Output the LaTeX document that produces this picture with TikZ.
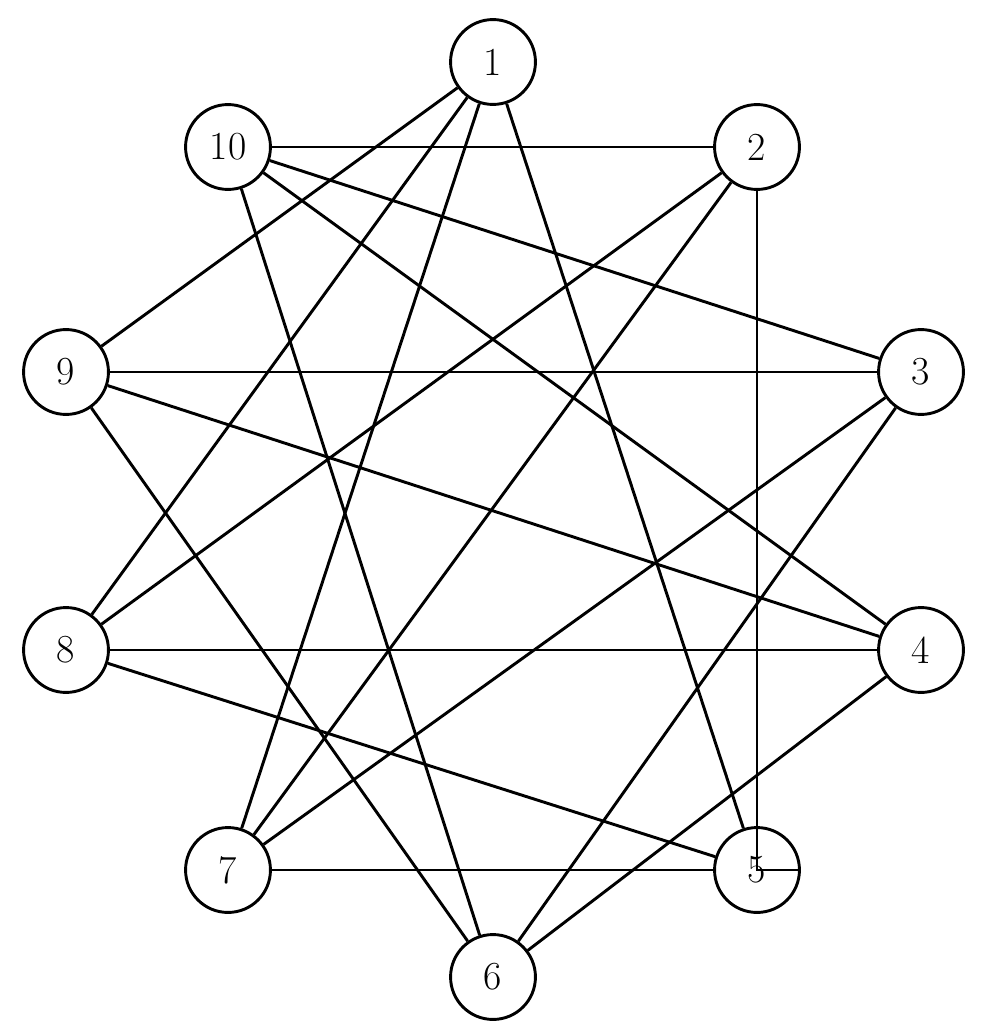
\documentclass[tikz,border=0pt]{standalone}
\begin{document}
\begin{tikzpicture}[x=0.0265cm,y=-0.0265cm,
  vtx/.style={circle,draw,line width=2.2pt,minimum size=2.25cm,inner sep=0pt,fill=white,font=\fontsize{30}{36}\selectfont},
  edge/.style={line width=2.2pt}]
\useasboundingbox (0,0) rectangle (991,1024);
\node[vtx] (n1) at (493,62) {1};
\node[vtx] (n10) at (228,147) {10};
\node[vtx] (n2) at (757,147) {2};
\node[vtx] (n9) at (66,372) {9};
\node[vtx] (n3) at (921,372) {3};
\node[vtx] (n8) at (66,650) {8};
\node[vtx] (n4) at (921,650) {4};
\node[vtx] (n7) at (228,870) {7};
\node[vtx] (n5) at (757,870) {5};
\node[vtx] (n6) at (493,977) {6};
\begin{scope}[on background layer/.style={}]
\foreach \a/\b in {1/9,1/8,1/7,1/5,10/2,10/3,10/4,10/6,9/3,9/4,9/6,3/7,3/6,8/2,8/4,8/5,4/6,7/2,7/5}
  \draw[edge] (n\a) -- (n\b);
\draw[edge] (n2.south) -- (n2.south |- n5.east) -- (n5.east);
\end{scope}
\end{tikzpicture}
\end{document}
